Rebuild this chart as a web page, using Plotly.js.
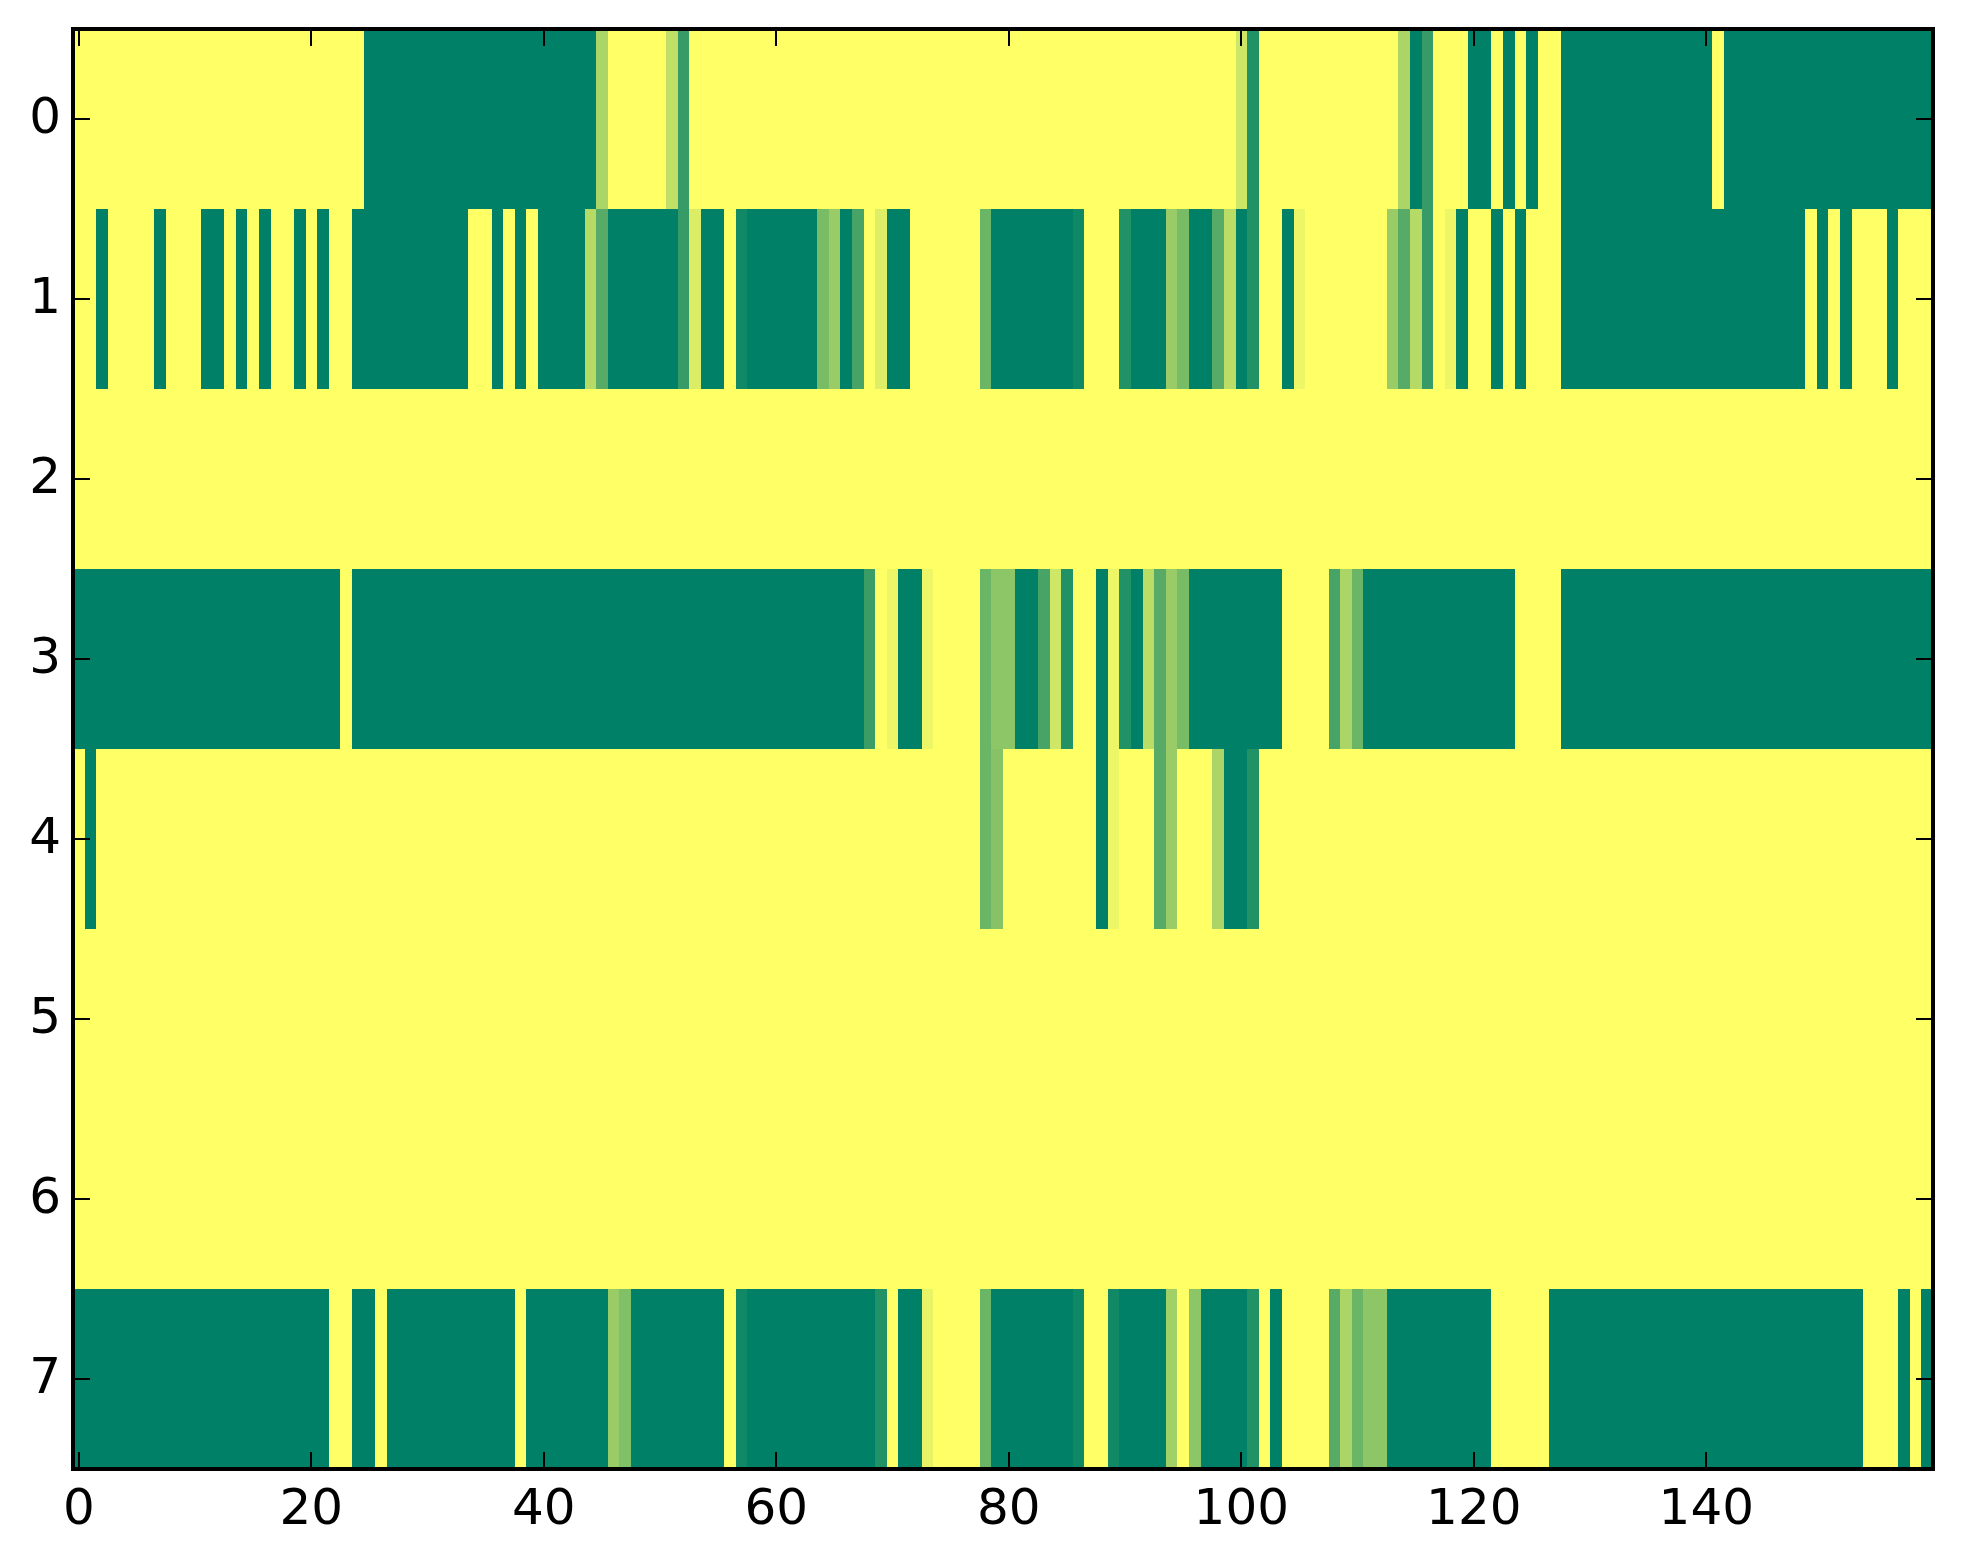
<!DOCTYPE html>
<html>
<head>
<meta charset="utf-8">
<script src="https://cdn.plot.ly/plotly-3.0.1.min.js"></script>
<style>html,body{margin:0;padding:0;background:#fff}</style>
</head>
<body>
<div id="chart" style="width:1963px;height:1564px"></div>
<script>
// Each row of the matrix as [value, number of columns] runs.
const row0 = [[0,25],[1,20],[.33,1],[0,5],[.25,1],[.79,1],[0,47],[.2,1],[.87,1],[0,12],[.33,1],[1,1],[.79,1],[0,3],[1,2],[0,1],[1,1],[0,1],[1,1],[0,2],[1,13],[0,1],[1,18]];
const row1 = [[0,2],[1,1],[0,4],[1,1],[0,3],[1,2],[0,1],[1,1],[0,1],[1,1],[0,2],[1,1],[0,1],[1,1],[0,2],[1,10],[0,2],[1,1],[0,1],[1,1],[0,1],[1,4],[.29,1],[.66,1],[1,6],[.79,1],[.14,1],[1,2],[0,1],[.93,1],[1,6],[.53,1],[.4,1],[1,1],[.72,1],[0,1],[.13,1],[1,2],[0,6],[.58,1],[1,7],[.94,1],[0,3],[.87,1],[1,3],[.4,1],[.53,1],[1,2],[.66,1],[.27,1],[1,1],[.87,1],[0,2],[1,1],[.07,1],[0,7],[.4,1],[.66,1],[.29,1],[.79,1],[0,1],[.07,1],[1,1],[0,2],[1,1],[0,1],[1,1],[0,3],[1,21],[0,1],[1,1],[0,1],[1,1],[0,3],[1,1],[0,3]];
const row2 = [[0,160]];
const row3 = [[1,23],[0,1],[1,44],[.77,1],[0,1],[.07,1],[1,2],[.07,1],[0,4],[.58,1],[.45,2],[1,2],[.72,1],[.19,1],[.87,1],[0,2],[1,1],[.07,1],[.87,1],[1,1],[.27,1],[.66,1],[.4,1],[.53,1],[1,8],[0,4],[.72,1],[.33,1],[.58,1],[1,13],[0,4],[1,32]];
const row4 = [[0,1],[1,1],[0,76],[.58,1],[.47,1],[0,8],[1,1],[.07,1],[0,3],[.66,1],[.4,1],[0,3],[.33,1],[1,2],[.87,1],[0,58]];
const row5 = [[0,160]];
const row6 = [[0,160]];
const row7 = [[1,22],[0,2],[1,2],[0,1],[1,11],[0,1],[1,7],[.4,1],[.5,1],[1,8],[0,1],[.93,1],[1,11],[.87,1],[0,1],[1,2],[.09,1],[0,4],[.58,1],[1,7],[.94,1],[0,2],[.93,1],[1,4],[.37,1],[0,1],[.45,1],[1,4],[.87,1],[0,1],[1,1],[0,4],[.66,1],[.33,1],[.58,1],[.45,2],[1,9],[0,5],[1,27],[0,3],[1,1],[0,1],[1,1]];

const rowLabels = [0, 1, 2, 3, 4, 5, 6, 7];
const colTicks = [0, 20, 40, 60, 80, 100, 120, 140];

const expand = runs => runs.flatMap(([v, n]) => Array(n).fill(v));
const z = [row0, row1, row2, row3, row4, row5, row6, row7].map(expand);

const axisStyle = {
  showgrid: false, zeroline: false, showline: false,
  mirror: 'ticks', ticks: 'inside', ticklen: 17, tickwidth: 2, tickcolor: '#000',
  tickfont: {family: 'DejaVu Sans', size: 50, color: '#000'}
};

Plotly.newPlot('chart', [{
  type: 'heatmap',
  z: z,
  zmin: 0,
  zmax: 1,
  showscale: false,
  colorscale: [[0, '#ffff66'], [1, '#008066']]
}], {
  width: 1963,
  height: 1564,
  paper_bgcolor: '#fff',
  plot_bgcolor: '#fff',
  margin: {l: 73, r: 30, t: 29, b: 95, pad: 0},
  xaxis: Object.assign({}, axisStyle, {range: [-0.5, 159.5], tickvals: colTicks, ticktext: colTicks.map(String), side: 'bottom', ticklabelstandoff: 4}),
  yaxis: Object.assign({}, axisStyle, {range: [7.5, -0.5], tickvals: rowLabels, ticktext: rowLabels.map(String), ticklabelstandoff: 11, ticklabelshift: 4}),
  shapes: [{type: 'rect', xref: 'paper', yref: 'paper', x0: 0, x1: 1, y0: 0, y1: 1, layer: 'above', line: {color: '#000', width: 4}, fillcolor: 'rgba(0,0,0,0)'}]
}, {displayModeBar: false, staticPlot: true});
</script>
</body>
</html>
